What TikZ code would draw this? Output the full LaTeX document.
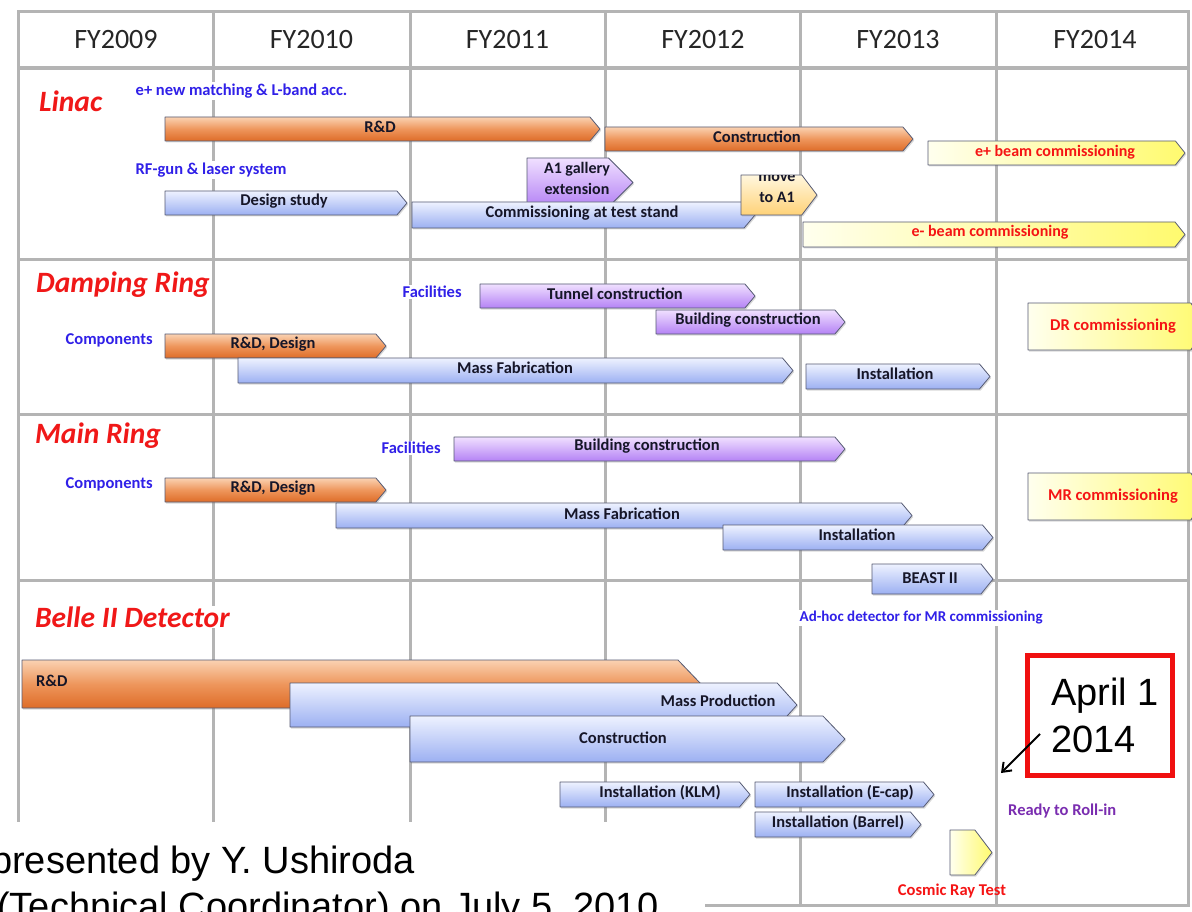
\documentclass[tikz,border=0pt]{standalone}
\usepackage{fontspec}
\setmainfont{Carlito}
\newfontfamily\arialf{Liberation Sans}
\usetikzlibrary{shadows,arrows.meta}

\definecolor{gridgray}{RGB}{180,180,180}
\definecolor{lblblue}{RGB}{48,32,232}
\definecolor{ttlred}{RGB}{240,24,24}
\definecolor{txtred}{RGB}{245,20,20}
\definecolor{rollpurple}{RGB}{122,45,176}
\definecolor{bartext}{RGB}{22,22,40}
\definecolor{barline}{RGB}{85,90,115}
\definecolor{orT}{RGB}{250,210,178}
\definecolor{orM}{RGB}{238,150,92}
\definecolor{orB}{RGB}{222,108,40}
\definecolor{blT}{RGB}{238,242,255}
\definecolor{blB}{RGB}{156,176,242}
\definecolor{puT}{RGB}{240,224,255}
\definecolor{puB}{RGB}{180,130,245}
\definecolor{yeL}{RGB}{255,255,238}
\definecolor{yeR}{RGB}{255,250,110}
\definecolor{crT}{RGB}{255,247,222}
\definecolor{crB}{RGB}{255,210,120}
\definecolor{boxred}{RGB}{240,16,16}

\newcommand\fs[1]{\fontsize{#1}{#1}\selectfont}
% bar shape: [tip ratio]{style}{x1}{x2}{ytop}{ybottom}
\newcommand\gbar[6][0.42]{%
  \path[barbase,#2] (#3,#5) -- ({#4-#1*(#6-#5)},#5) -- (#4,{(#5+#6)/2})
     -- ({#4-#1*(#6-#5)},#6) -- (#3,#6) -- cycle;}

\tikzset{
  gridline/.style={draw=gridgray, line width=3pt},
  barbase/.style={draw=barline, line width=0.8pt, line join=round,
     drop shadow={opacity=0.3, shadow xshift=1.2pt, shadow yshift=-1.5pt}},
  orbar/.style={top color=orT, bottom color=orB, middle color=orM},
  blbar/.style={top color=blT, bottom color=blB},
  pubar/.style={top color=puT, bottom color=puB},
  yebar/.style={left color=yeL, right color=yeR},
  crbar/.style={top color=crT, bottom color=crB},
  bt/.style={font=\fs{16.5}\bfseries, text=bartext, inner sep=0pt},
  bttwo/.style={bt, align=center, font=\fontsize{16}{21}\selectfont\bfseries},
  lbl/.style={font=\fs{16.5}\bfseries, text=lblblue, fill=white, inner sep=1.5pt, anchor=west},
  ttl/.style={font=\fs{29.5}\bfseries\itshape, text=ttlred, fill=white, inner sep=1pt, anchor=west},
  redt/.style={font=\fs{16}\bfseries, text=txtred, inner sep=0pt},
  fy/.style={font=\fs{28}, text=black!85},
  arialtxt/.style={font=\arialf\fs{38}, text=black, inner sep=0pt, anchor=base west},
  datetxt/.style={font=\arialf\fs{38}, text=black, inner sep=0pt, anchor=base west},
}

\begin{document}
\begin{tikzpicture}[x=1pt,y=-1pt]
\useasboundingbox[fill=white] (0,0) rectangle (1192,912);

% ---------- grid ----------
\foreach \x in {213,410,605,800,996} \draw[gridline] (\x,12) -- (\x,905);
\draw[gridline] (18,12) rectangle (1188,905);
\draw[gridline, line width=4pt] (18,68) -- (1188,68);
\foreach \y in {260,414,580} \draw[gridline] (18,\y) -- (1188,\y);

% header
\node[fy] (fy09) at (116,40) {FY2009};
\node[fy] (fy10) at (311.5,40) {FY2010};
\node[fy] (fy11) at (507.5,40) {FY2011};
\node[fy] (fy12) at (703,40) {FY2012};
\node[fy] (fy13) at (898,40) {FY2013};
\node[fy] (fy14) at (1095,40) {FY2014};

% bottom-left overlay
\fill[white] (0,822) rectangle (705,912);

% ---------- Linac ----------
\node[ttl] (t-linac) at (38,101) {Linac};
\node[lbl] (l-epm) at (134,91) {e+ new matching \& L-band acc.};
\node[lbl] (l-rf) at (134,170) {RF-gun \& laser system};

\gbar{orbar}{165}{600}{117}{141}
\node[bt] (lin-rd) at (380,127) {R\&D};
\gbar{orbar}{605}{913}{127}{151}
\node[bt] (lin-con) at (757,137) {Construction};
\gbar[0.4]{yebar}{928}{1185}{141}{165}
\node[redt] (lin-epc) at (1055,152) {e+ beam commissioning};

\gbar[0.5]{pubar}{527}{633}{158}{207}
\node[bttwo] (lin-a1) at (577,178) {A1 gallery\\extension};
\gbar{blbar}{165}{407}{191}{215}
\node[bt] (lin-ds) at (284,201) {Design study};
\gbar{blbar}{412}{755}{202}{228}
\node[bt] (lin-cts) at (582,213) {Commissioning at test stand};
\gbar[0.38]{crbar}{741}{817}{175}{215}
\begin{scope}
  \clip (741,175.5) rectangle (820,215);
  \node[bttwo] (lin-mv) at (777,188) {move\\to A1};
\end{scope}
\gbar[0.4]{yebar}{803}{1185}{222}{247}
\node[redt] (lin-emc) at (990,232) {e- beam commissioning};

% ---------- Damping Ring ----------
\node[ttl] (t-dr) at (35,285) {Damping Ring};
\node[lbl] (dr-fac) at (401,292) {Facilities};
\node[lbl] (dr-comp) at (64,340) {Components};
\gbar{pubar}{480}{755}{284}{308}
\node[bt] (dr-tun) at (615,294) {Tunnel construction};
\gbar{pubar}{656}{845}{310}{334}
\node[bt] (dr-bld) at (748,320) {Building construction};
\gbar[0.3]{yebar}{1028}{1205}{303}{350}
\node[redt, font=\fs{16.5}\bfseries] (dr-comm) at (1113,326) {DR commissioning};
\gbar{orbar}{165}{386}{334}{358}
\node[bt] (dr-rd) at (273,344) {R\&D, Design};
\gbar{blbar}{238}{793}{358}{383}
\node[bt] (dr-mf) at (515,368) {Mass Fabrication};
\gbar{blbar}{806}{990}{364}{389}
\node[bt] (dr-ins) at (895,374) {Installation};

% ---------- Main Ring ----------
\node[ttl] (t-mr) at (34,436) {Main Ring};
\node[lbl] (mr-fac) at (380,448) {Facilities};
\node[lbl] (mr-comp) at (64,484) {Components};
\gbar{pubar}{454}{845}{437}{461}
\node[bt] (mr-bld) at (647,446) {Building construction};
\gbar[0.3]{yebar}{1028}{1205}{473}{520}
\node[redt, font=\fs{16.5}\bfseries] (mr-comm) at (1113,496) {MR commissioning};
\gbar{orbar}{165}{386}{478}{502}
\node[bt] (mr-rd) at (273,488) {R\&D, Design};
\gbar{blbar}{336}{912}{503}{528}
\node[bt] (mr-mf) at (622,514) {Mass Fabrication};
\gbar{blbar}{723}{993}{525}{550}
\node[bt] (mr-ins) at (857,535) {Installation};
\gbar[0.4]{blbar}{872}{993}{564}{594}
\node[bt] (mr-beast) at (930,578) {BEAST II};

% ---------- Belle II ----------
\node[ttl] (t-belle) at (34,617) {Belle II Detector};
\node[lbl, font=\fs{15}\bfseries] (b-adhoc) at (798,618) {Ad-hoc detector for MR commissioning};
\gbar[0.48]{orbar}{22}{701}{660}{708}
\node[bt, anchor=west] (b-rd) at (36,681) {R\&D};
\gbar[0.45]{blbar}{290}{797}{683}{727}
\node[bt] (b-mp) at (718,701) {Mass Production};
\gbar[0.48]{blbar}{410}{845}{716}{762}
\node[bt] (b-con) at (623,738) {Construction};
\gbar{blbar}{560}{750}{782}{807}
\node[bt] (b-klm) at (660,793) {Installation (KLM)};
\gbar{blbar}{755}{934}{782}{807}
\node[bt] (b-ecap) at (850,793) {Installation (E-cap)};
\gbar{blbar}{755}{921}{812}{837}
\node[bt] (b-bar) at (838,823) {Installation (Barrel)};
\gbar[0.38]{yebar}{950}{992}{830}{875}
\node[redt, font=\fs{16.5}\bfseries] (b-cos) at (952,891) {Cosmic Ray Test};
\node[font=\fs{16.5}\bfseries, text=rollpurple, inner sep=0pt, anchor=west] (b-roll) at (1008,811) {Ready to Roll-in};

% date box and arrow
\node[draw=boxred, line width=5pt, minimum width=145pt, minimum height=120pt, inner sep=0pt] (datebox) at (1099.5,715) {};
\node[datetxt] (d1) at (1051,705) {April 1};
\node[datetxt] (d2) at (1051,752) {2014};
\coordinate (arrS) at (1040,734);
\coordinate (arrE) at (1001,773);
\draw[line width=2pt, -{Straight Barb[length=8pt,width=12pt]}] (arrS) -- (arrE);

% presenter text (cut by the picture's edges, as in the original)
\node[arialtxt] (pres1) at (-9,873) {presented by Y. Ushiroda};
\node[arialtxt] (pres2) at (-3,919) {(Technical Coordinator) on July 5, 2010};
\end{tikzpicture}
\end{document}
